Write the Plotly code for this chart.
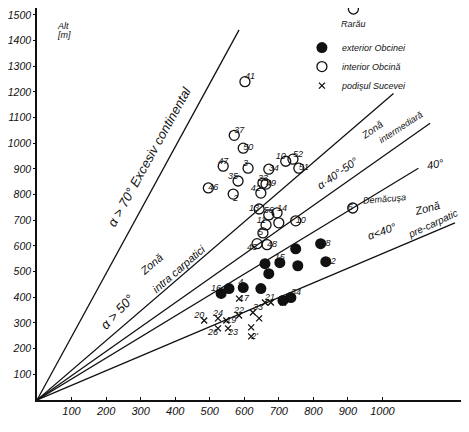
import plotly.graph_objects as go

# ---- data ----
# interior Obcină (open circles)
int_labels = ["41", "37", "50", "47", "3", "35", "33", "34", "49", "42", "46", "2",
              "10", "52", "51", "13", "56", "14", "11", "", "10", "5", "48", "45", "6", ""]
int_x = [602, 571, 597, 539, 611, 582, 654, 671, 663, 648, 496, 568,
         720, 741, 758, 643, 671, 695, 663, 700, 749, 654, 666, 637, 914, 916]
int_y = [1240, 1031, 981, 911, 903, 853, 845, 899, 841, 806, 826, 802,
         930, 938, 903, 744, 721, 729, 682, 690, 698, 651, 605, 609, 748, 1523]
int_pos = ["top right", "top right", "middle right", "top center", "top left", "top left",
           "top center", "middle right", "middle right", "top left", "middle right", "bottom right",
           "top left", "top right", "middle right", "middle left", "top center", "top right",
           "top left", "middle right", "middle right", "middle left", "middle right", "bottom left",
           "middle left", "bottom center"]

# exterior Obcinei (filled circles)
ext_labels = ["38", "12", "8", "", "15", "7", "9", "16", "", "4", "", "34", ""]
ext_x = [821, 836, 749, 660, 703, 755, 671, 533, 556, 597, 648, 735, 712]
ext_y = [609, 539, 589, 531, 535, 523, 492, 415, 434, 438, 434, 399, 388]
ext_pos = ["middle right", "middle right", "middle left", "middle left", "top center",
           "middle left", "middle left", "top left", "top right", "top left", "top right",
           "top right", "bottom left"]

# podişul Sucevei (crosses)
suc_labels = ["17", "20", "24", "22", "33", "19", "26", "23", "2'", "", "", "21", "", ""]
suc_x = [585, 484, 524, 585, 625, 548, 524, 553, 620, 620, 643, 660, 677, 712]
suc_y = [395, 310, 318, 329, 341, 310, 279, 279, 248, 283, 318, 380, 380, 380]
suc_pos = ["middle right", "top left", "top center", "top center", "top right", "middle right",
           "bottom left", "bottom right", "middle right", "bottom right", "bottom right",
           "top right", "bottom right", "bottom right"]

# angle lines from origin (end points)
line_end_x = [585, 1032, 1138, 1104, 1210]
line_end_y = [1442, 1194, 1078, 903, 690]

y_ticks = [100, 200, 300, 400, 500, 600, 700, 800, 900, 1000, 1100, 1200, 1300, 1400, 1500]
x_ticks = [100, 200, 300, 400, 500, 600, 700, 800, 900, 1000]

FONT = "Liberation Sans"
BLACK = "#111111"

fig = go.Figure()

for ex, ey in zip(line_end_x, line_end_y):
    fig.add_trace(go.Scatter(x=[0, ex], y=[0, ey], mode="lines",
                             line=dict(color=BLACK, width=1.3),
                             showlegend=False, hoverinfo="skip"))

fig.add_trace(go.Scatter(x=ext_x, y=ext_y, mode="markers", name="exterior Obcinei",
                         cliponaxis=False,
                         marker=dict(symbol="circle", size=11, color=BLACK)))
fig.add_trace(go.Scatter(x=int_x, y=int_y, mode="markers", name="interior Obcină",
                         cliponaxis=False,
                         marker=dict(symbol="circle-open", size=10, color=BLACK,
                                     line=dict(width=1.3, color=BLACK))))
fig.add_trace(go.Scatter(x=suc_x, y=suc_y, mode="markers", name="podişul Sucevei",
                         cliponaxis=False,
                         marker=dict(symbol="x-thin", size=6, color=BLACK,
                                     line=dict(width=1.3, color=BLACK))))

lab_font = dict(family=FONT, size=9, color=BLACK, style="italic")
for xs, ys, ls, ps in [(int_x, int_y, int_labels, int_pos),
                       (ext_x, ext_y, ext_labels, ext_pos),
                       (suc_x, suc_y, suc_labels, suc_pos)]:
    fig.add_trace(go.Scatter(x=xs, y=ys, mode="text", text=ls, textposition=ps,
                             cliponaxis=False,
                             textfont=lab_font, showlegend=False, hoverinfo="skip"))

def note(text, x, y, size=11, angle=0, xanchor="center"):
    fig.add_annotation(x=x, y=y, text=text, showarrow=False, textangle=angle,
                       xanchor=xanchor, yanchor="middle",
                       font=dict(family=FONT, size=size, color=BLACK, style="italic"))

note("Rarău", 916, 1466, size=9)
note("α > 70° Excesiv continental", 325, 950, size=13, angle=-61)
note("Zonă", 331, 531, size=11, angle=-40)
note("intra carpatici", 410, 510, size=11, angle=-41)
note("α > 50°", 233, 345, size=13, angle=-47)
note("α·40°-50°", 870, 884, size=11, angle=-35)
note("Zonă", 971, 1054, size=10, angle=-35)
note("intermediară", 1055, 1062, size=9, angle=-33)
note("40°", 1153, 919, size=11, angle=-10)
note("Demăcuşa", 1006, 783, size=9, angle=-5)
note("α<40°", 1000, 659, size=11, angle=-20)
note("Zonă", 1130, 748, size=11, angle=-15)
note("pre-carpatic", 1147, 686, size=10, angle=-25)
note("Alt", 52, 1457, size=9, xanchor="left")
note("[m]", 52, 1422, size=9, xanchor="left")
note("<span style='font-size:18px'>ρ</span>(mm)", 1104, -47, size=10)

fig.update_layout(
    width=461, height=424,
    margin=dict(l=27, r=4, t=0, b=32),
    paper_bgcolor="white", plot_bgcolor="white",
    showlegend=True,
    legend=dict(x=0.619, y=0.936, xanchor="left", yanchor="top",
                bgcolor="rgba(0,0,0,0)", tracegroupgap=0,
                font=dict(family=FONT, size=9, color=BLACK, style="italic")),
    xaxis=dict(range=[0, 1239], showgrid=False, zeroline=False, showline=True,
               linecolor=BLACK, linewidth=1.6, ticks="inside", ticklen=3,
               tickcolor=BLACK, tickvals=x_ticks, ticktext=[str(v) for v in x_ticks],
               tickfont=dict(family=FONT, size=11, color=BLACK, style="italic")),
    yaxis=dict(range=[0, 1527], showgrid=False, zeroline=False, showline=True,
               linecolor=BLACK, linewidth=1.6, ticks="outside", ticklen=2,
               tickcolor=BLACK, tickvals=y_ticks, ticktext=[str(v) for v in y_ticks],
               tickfont=dict(family=FONT, size=10.5, color=BLACK, style="italic")),
)

fig.write_html("out.html")
